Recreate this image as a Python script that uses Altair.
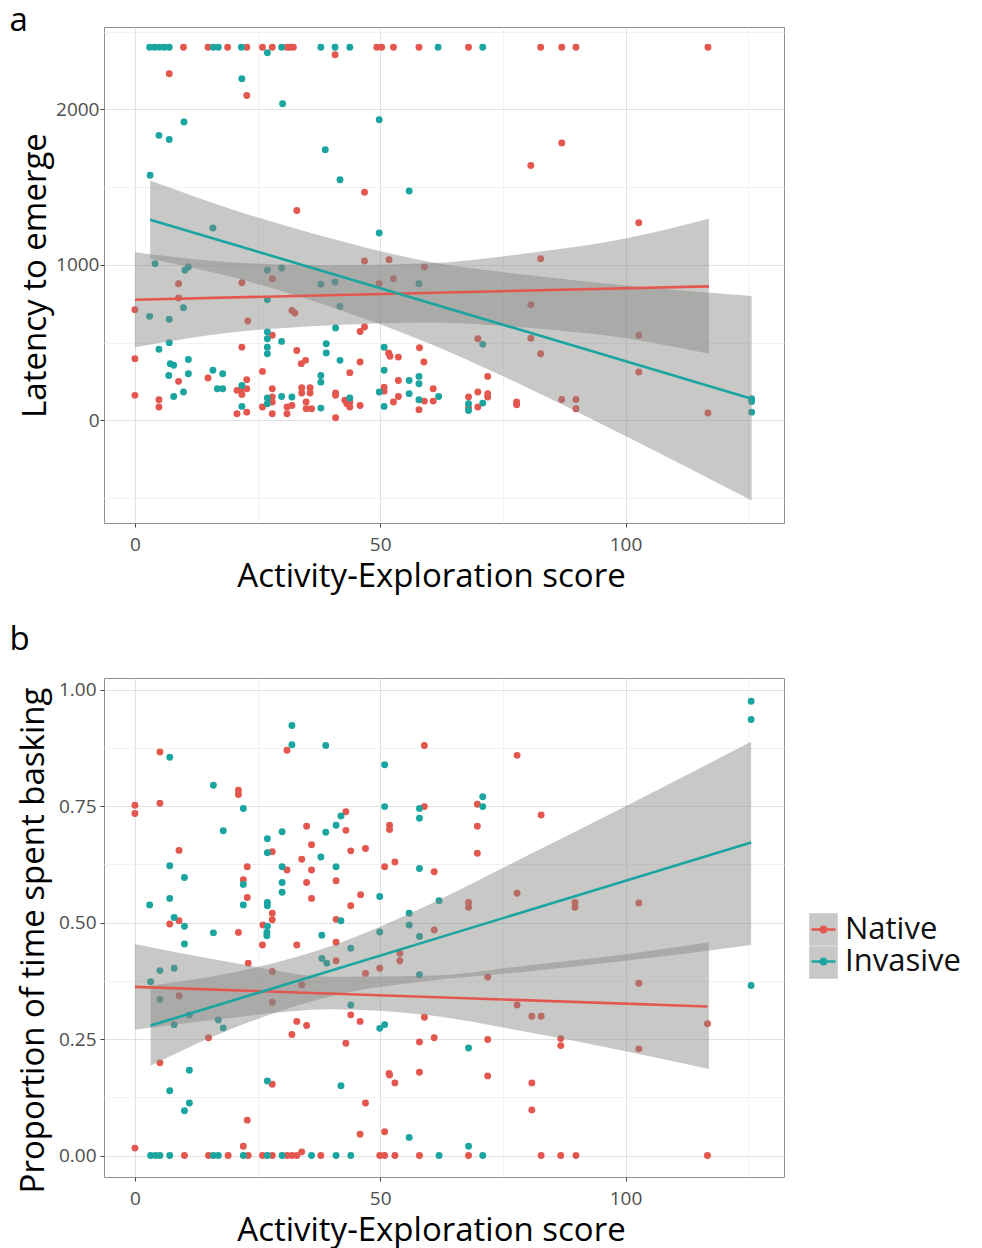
import altair as alt
import pandas as pd

RED = "#E3574F"
TEAL = "#1AA5A0"
RIBBON = "#868683"
FONT = "Open Sans"

# ---------------- Panel a: latency to emerge ----------------
a_nat_x = [9.9, 14.9, 18.9, 22.8, 26.0, 28.0, 31.0, 31.6, 32.3, 49.3, 50.3, 52.7, 57.9, 68.0, 82.7, 87.0, 89.9, 116.8,
           40.8, 7.0, 22.8, 46.8, 33.0, 46.8, 51.8, 59.0, 87.0, 80.7, 102.7, 82.7,
           8.9, 8.9, 0.0, 0.0, 21.8, 23.0, 28.0, 32.0, 32.6, 28.0, 21.8, 33.0, 33.9, 34.8, 45.9, 46.8, 49.8, 52.7,
           51.7, 52.0, 53.7, 58.0, 58.9, 45.9,
           8.9, 0.0, 4.9, 4.9, 14.9, 26.0, 22.8, 20.8, 21.8, 22.8, 21.8, 20.8, 22.8, 28.0, 28.0, 28.0, 26.0, 28.0,
           31.0, 31.0, 32.0, 34.0, 34.0, 35.7, 35.7, 34.9, 34.9, 36.0, 40.9, 40.9, 40.9, 42.8, 43.2, 43.8, 43.8,
           45.9, 43.8, 50.8, 50.8, 52.7, 53.7, 53.7, 57.9, 59.0, 60.8, 60.8,
           68.0, 68.0, 69.9, 69.9, 71.9, 71.9, 71.9, 69.9, 77.8, 77.8, 80.7, 80.7, 82.7, 87.0, 89.9, 89.9,
           102.7, 102.7, 116.8]
a_nat_y = [2400, 2400, 2400, 2400, 2400, 2400, 2400, 2400, 2400, 2400, 2400, 2400, 2400, 2400, 2400, 2400, 2400, 2400,
           2352, 2229, 2090, 1468, 1350, 1025, 1033, 986, 1784, 1640, 1271, 1040,
           879, 787, 712, 397, 885, 639, 911, 707, 690, 547, 471, 450, 365, 386, 572, 600, 879, 911,
           433, 412, 407, 467, 375, 375,
           251, 161, 133, 86, 272, 315, 262, 193, 204, 204, 167, 43, 53, 204, 150, 118, 86, 43,
           86, 43, 96, 210, 176, 210, 176, 118, 75, 75, 176, 161, 17, 129, 107, 118, 86,
           96, 307, 214, 188, 118, 154, 257, 69, 124, 204, 124,
           150, 82, 182, 86, 283, 172, 150, 525, 118, 101, 744, 529, 429, 135, 135, 75,
           547, 311, 47]

a_inv_x = [3.0, 4.0, 5.0, 6.0, 7.0, 16.0, 17.0, 21.7, 29.9, 37.9, 40.8, 43.8, 61.8, 70.9, 27.0,
           21.8, 30.1, 10.0, 4.9, 7.0, 38.8, 49.8, 41.8, 3.1, 55.9, 15.9, 49.8, 4.1,
           10.2, 10.9, 9.9, 3.0, 7.0, 7.0, 4.9, 7.2, 7.9, 10.9, 27.0, 29.9, 27.0, 37.9, 40.8, 41.8,
           27.0, 27.0, 27.0, 27.0, 29.9, 39.0, 39.0, 40.9, 57.9, 50.8, 41.8,
           6.9, 10.9, 9.9, 7.9, 15.9, 17.9, 16.8, 17.9, 21.8, 21.8, 27.0, 27.0, 29.9, 32.0,
           37.9, 37.9, 37.9, 43.8, 50.8, 49.8, 50.8, 55.9, 57.9, 57.9, 55.9, 57.9, 61.9,
           68.0, 68.0, 70.9, 70.9, 125.7, 125.7, 125.7]
a_inv_y = [2400, 2400, 2400, 2400, 2400, 2400, 2400, 2400, 2400, 2400, 2400, 2400, 2400, 2400, 2364,
           2197, 2036, 1919, 1833, 1807, 1741, 1933, 1548, 1576, 1475, 1237, 1205, 1008,
           965, 986, 725, 669, 650, 500, 457, 365, 354, 392, 965, 980, 776, 875, 890, 733,
           568, 525, 471, 429, 508, 493, 433, 594, 879, 471, 386,
           289, 300, 182, 154, 322, 300, 204, 204, 225, 90, 144, 107, 154, 150,
           289, 246, 79, 144, 322, 182, 90, 257, 283, 236, 172, 133, 154,
           107, 64, 111, 489, 139, 122, 53]

# fitted lines (end points)
a_line_nat_x = [0.0, 117.0]
a_line_nat_y = [776, 862]
a_line_inv_x = [3.1, 125.7]
a_line_inv_y = [1291, 139]

# confidence ribbons
a_rib_nat_x = [0, 20, 40, 60, 80, 100, 117]
a_rib_nat_hi = [1082, 1016, 998, 1010, 1075, 1170, 1297]
a_rib_nat_lo = [471, 566, 612, 630, 595, 528, 429]
a_rib_inv_x = [3.1, 20, 40, 60, 80, 100, 125.7]
a_rib_inv_hi = [1543, 1355, 1170, 1020, 935, 868, 800]
a_rib_inv_lo = [1040, 920, 730, 495, 210, -100, -515]

# ---------------- Panel b: proportion of time basking ----------------
b_nat_x = [31.0, 59.0, 5.1, 21.1, 21.1, 0.0, 0.0, 5.1, 43.0, 35.0, 43.0, 51.9, 51.9, 9.0, 28.0, 36.0, 44.0, 47.0,
           34.0, 22.9, 31.0, 36.0, 50.9, 53.0, 61.0, 22.1, 35.0, 41.0, 22.9, 36.0, 46.0, 44.0, 9.0, 7.1, 28.0,
           28.0, 26.1, 41.0, 59.0,
           77.9, 69.8, 69.8, 69.8, 82.8, 77.9, 68.0, 68.0, 89.7, 89.7, 102.7,
           21.1, 26.0, 33.0, 61.0, 9.0, 23.1, 28.0, 28.0, 34.0, 41.0, 41.0, 47.0, 49.9, 44.0, 45.9, 33.0, 35.0,
           32.0, 15.0, 5.1, 43.0, 54.0, 54.0, 59.0, 58.0, 61.0, 51.8, 58.0,
           22.9, 22.1, 0.0, 28.0, 47.0, 45.9, 50.9, 51.9, 53.0, 34.0,
           71.9, 77.9, 80.9, 82.8, 71.9, 86.8, 86.8, 102.7, 102.7, 116.7, 71.9, 80.9, 80.9,
           10.1, 15.0, 19.0, 23.1, 26.0, 28.0, 31.0, 32.0, 33.0, 37.9, 49.9, 50.9, 53.0, 58.0, 68.0, 82.8,
           86.8, 89.9, 116.7]
b_nat_y = [0.870, 0.880, 0.866, 0.784, 0.775, 0.752, 0.734, 0.756, 0.738, 0.707, 0.698, 0.709, 0.700, 0.655,
           0.652, 0.667, 0.654, 0.659, 0.636, 0.620, 0.613, 0.613, 0.620, 0.630, 0.609, 0.592, 0.586, 0.590,
           0.554, 0.552, 0.560, 0.536, 0.504, 0.497, 0.520, 0.506, 0.495, 0.507, 0.749,
           0.859, 0.754, 0.707, 0.649, 0.731, 0.563, 0.543, 0.533, 0.543, 0.533, 0.542,
           0.479, 0.452, 0.452, 0.484, 0.343, 0.413, 0.395, 0.329, 0.366, 0.458, 0.418, 0.391, 0.402, 0.302,
           0.288, 0.288, 0.279, 0.260, 0.253, 0.199, 0.241, 0.434, 0.418, 0.297, 0.244, 0.253, 0.176, 0.179,
           0.076, 0.020, 0.016, 0.153, 0.113, 0.046, 0.051, 0.173, 0.156, 0.008,
           0.383, 0.323, 0.299, 0.299, 0.249, 0.251, 0.236, 0.370, 0.229, 0.283, 0.171, 0.156, 0.098,
           0, 0, 0, 0, 0, 0, 0, 0, 0, 0, 0, 0, 0, 0, 0, 0, 0, 0, 0]

b_inv_x = [32.0, 32.0, 38.9, 7.1, 50.9, 16.0, 22.1, 50.9, 58.0, 58.0, 42.0, 41.0, 38.9, 18.0, 27.0, 30.0,
           27.0, 37.9, 7.1, 30.0, 41.0, 58.0, 10.1, 22.1, 30.0, 30.0, 7.1, 3.0, 22.1, 27.0, 27.0, 49.9, 62.0,
           8.0, 10.1, 27.0, 42.0, 55.9, 55.9,
           10.1, 16.0, 26.9, 26.9, 38.1, 49.9, 58.0,
           5.1, 8.0, 5.1, 11.1, 8.0, 38.1, 39.1, 44.0, 44.0, 49.9, 50.9, 17.0, 18.0, 11.1, 58.0, 3.2,
           7.1, 10.1, 11.1, 27.0, 42.0, 55.9, 68.0, 68.0,
           125.6, 125.6, 70.9, 70.9, 125.6,
           3.2, 4.2, 5.1, 7.1, 16.0, 17.0, 22.1, 27.0, 30.0, 36.0, 41.0, 44.0, 62.0, 70.9]
b_inv_y = [0.923, 0.882, 0.880, 0.855, 0.839, 0.795, 0.745, 0.749, 0.745, 0.724, 0.729, 0.709, 0.694, 0.697,
           0.680, 0.695, 0.650, 0.641, 0.622, 0.620, 0.620, 0.616, 0.597, 0.582, 0.586, 0.565, 0.552, 0.538,
           0.538, 0.543, 0.536, 0.556, 0.547, 0.511, 0.492, 0.492, 0.504, 0.520, 0.495,
           0.454, 0.478, 0.479, 0.472, 0.473, 0.480, 0.470,
           0.397, 0.402, 0.335, 0.302, 0.281, 0.423, 0.413, 0.445, 0.323, 0.273, 0.281, 0.291, 0.274, 0.183,
           0.388, 0.373,
           0.139, 0.096, 0.113, 0.160, 0.150, 0.039, 0.020, 0.231,
           0.975, 0.936, 0.770, 0.749, 0.365,
           0, 0, 0, 0, 0, 0, 0, 0, 0, 0, 0, 0, 0, 0]

b_line_nat_x = [0.0, 116.7]
b_line_nat_y = [0.362, 0.320]
b_line_inv_x = [3.2, 125.6]
b_line_inv_y = [0.279, 0.672]

b_rib_nat_x = [0, 20, 40, 60, 80, 100, 117]
b_rib_nat_hi = [0.454, 0.414, 0.384, 0.386, 0.408, 0.432, 0.458]
b_rib_nat_lo = [0.270, 0.296, 0.314, 0.301, 0.265, 0.224, 0.186]
b_rib_inv_x = [3.2, 20, 40, 60, 80, 100, 125.6]
b_rib_inv_hi = [0.365, 0.393, 0.450, 0.539, 0.644, 0.750, 0.888]
b_rib_inv_lo = [0.193, 0.273, 0.342, 0.375, 0.395, 0.418, 0.452]

groups = ["Native", "Invasive"]
keys = ["N", "I"]


def pts(nx, ny, ix, iy):
    return pd.DataFrame({
        "x": list(nx) + list(ix),
        "y": list(ny) + list(iy),
        "group": ["Native"] * len(nx) + ["Invasive"] * len(ix),
    })


def rib(nx, nhi, nlo, ix, ihi, ilo):
    return pd.DataFrame({
        "x": list(nx) + list(ix),
        "hi": list(nhi) + list(ihi),
        "lo": list(nlo) + list(ilo),
        "key": ["N"] * len(nx) + ["I"] * len(ix),
    })


LINE_PATH = "M-1,-0.1H1V0.1H-1Z M0.34,0A0.34,0.34,0,1,1,-0.34,0A0.34,0.34,0,1,1,0.34,0Z"
BOX_PATH = "M-1.19,-1.35H1.19V1.35H-1.19Z"
LEG_X = 704
LEG_Y = 236
LEG_FONT = 31

X_VALUES = [0, 25, 50, 75, 100, 125]


def make_x_axis():
    return alt.Axis(
        values=X_VALUES,
        labelExpr="datum.value % 50 === 0 ? datum.label : ''",
        tickOpacity={"condition": {"test": "datum.value % 50 !== 0", "value": 0}, "value": 1},
        gridColor={"condition": {"test": "datum.value % 50 !== 0", "value": "#f1f1f1"}, "value": "#e2e2e2"},
        title="Activity-Exploration score",
        titleX=327,
    )


def panel(df_pts, df_rib, lines, y_domain, y_axis, title, dx, offset, show_legend, width, height):
    xs = alt.Scale(domain=[-6.3, 132.3], nice=False, zero=False)
    ys = alt.Scale(domain=y_domain, nice=False, zero=False)
    if show_legend:
        col_leg = alt.Legend(title=None, orient="none", legendX=LEG_X, legendY=LEG_Y, symbolType=LINE_PATH,
                             symbolSize=576, labelFontSize=LEG_FONT, labelFont=FONT, labelColor="#111",
                             rowPadding=0, labelOffset=6, symbolStrokeWidth=0, zindex=2, padding=0)
        fill_leg = alt.Legend(title=None, orient="none", legendX=LEG_X, legendY=LEG_Y, symbolType=BOX_PATH,
                              symbolSize=576, labelFontSize=LEG_FONT, labelFont=FONT, labelExpr="''",
                              rowPadding=0, labelOffset=6, symbolStrokeWidth=0, zindex=1, padding=0,
                              symbolOpacity=0.45)
    else:
        col_leg = None
        fill_leg = None
    color = alt.Color("group:N", scale=alt.Scale(domain=groups, range=[RED, TEAL]), legend=col_leg)
    points = alt.Chart(df_pts).mark_circle(size=48, opacity=1).encode(
        x=alt.X("x:Q", scale=xs, axis=make_x_axis()),
        y=alt.Y("y:Q", scale=ys, axis=y_axis),
        color=color,
    )
    ribbon = alt.Chart(df_rib).mark_area(opacity=0.45, interpolate="monotone").encode(
        x="x:Q",
        y="lo:Q",
        y2="hi:Q",
        fill=alt.Fill("key:N", scale=alt.Scale(domain=keys, range=[RIBBON, RIBBON]), legend=fill_leg),
    )
    line = alt.Chart(lines).mark_line(strokeWidth=2.6).encode(
        x="x:Q",
        y="y:Q",
        color=color,
    )
    return alt.layer(points, ribbon, line).properties(
        width=width, height=height,
        title=alt.TitleParams(title, anchor="start", frame="bounds", fontSize=33, font=FONT,
                              fontWeight="normal", color="#000", dx=dx, offset=offset, baseline="alphabetic"),
    )


a_pts = pts(a_nat_x, a_nat_y, a_inv_x, a_inv_y)
a_rib = rib(a_rib_nat_x, a_rib_nat_hi, a_rib_nat_lo, a_rib_inv_x, a_rib_inv_hi, a_rib_inv_lo)
a_lines = pd.DataFrame({"x": a_line_nat_x + a_line_inv_x, "y": a_line_nat_y + a_line_inv_y,
                        "group": ["Native"] * 2 + ["Invasive"] * 2})
b_pts = pts(b_nat_x, b_nat_y, b_inv_x, b_inv_y)
b_rib = rib(b_rib_nat_x, b_rib_nat_hi, b_rib_nat_lo, b_rib_inv_x, b_rib_inv_hi, b_rib_inv_lo)
b_lines = pd.DataFrame({"x": b_line_nat_x + b_line_inv_x, "y": b_line_nat_y + b_line_inv_y,
                        "group": ["Native"] * 2 + ["Invasive"] * 2})

a_y_axis = alt.Axis(
    values=[-500, 0, 500, 1000, 1500, 2000, 2500],
    labelExpr="datum.value % 1000 === 0 ? format(datum.value, 'd') : ''",
    tickOpacity={"condition": {"test": "datum.value % 1000 !== 0", "value": 0}, "value": 1},
    gridColor={"condition": {"test": "datum.value % 1000 !== 0", "value": "#f1f1f1"}, "value": "#e2e2e2"},
    title="Latency to emerge",
    titlePadding=3,
    labelPadding=1,
)
b_y_axis = alt.Axis(
    values=[0, 0.125, 0.25, 0.375, 0.5, 0.625, 0.75, 0.875, 1.0],
    labelExpr="round(datum.value*4) === datum.value*4 ? format(datum.value, '.2f') : ''",
    tickOpacity={"condition": {"test": "round(datum.value*4) !== datum.value*4", "value": 0}, "value": 1},
    gridColor={"condition": {"test": "round(datum.value*4) !== datum.value*4", "value": "#f1f1f1"},
               "value": "#e2e2e2"},
    title="Proportion of time spent basking",
    titlePadding=8,
    labelPadding=4,
    titleY=262,
)

panel_a = panel(a_pts, a_rib, a_lines, [-660, 2530], a_y_axis, "a", -10, -37, False, 680, 496)
panel_b = panel(b_pts, b_rib, b_lines, [-0.046, 1.025], b_y_axis, "b", -8, -5, True, 680, 499)

chart = alt.vconcat(panel_a, panel_b, spacing=29).resolve_scale(
    color="independent", fill="independent"
).resolve_legend(
    color="independent", fill="independent"
).properties(padding={"top": -4, "left": 0, "right": 0, "bottom": 0}).configure_view(
    stroke="#8f8f8f", strokeWidth=1
).configure_axis(
    domain=False, tickColor="#444444", tickSize=4, tickWidth=1,
    labelFont=FONT, labelFontSize=19, labelColor="#4d4d4d",
    titleFont=FONT, titleFontSize=33, titleFontWeight="normal", titleColor="#000000",
    gridWidth=1,
).configure_axisX(titlePadding=6, labelPadding=8)

chart.save("out.html", embed_options={"renderer": "svg", "actions": False})
